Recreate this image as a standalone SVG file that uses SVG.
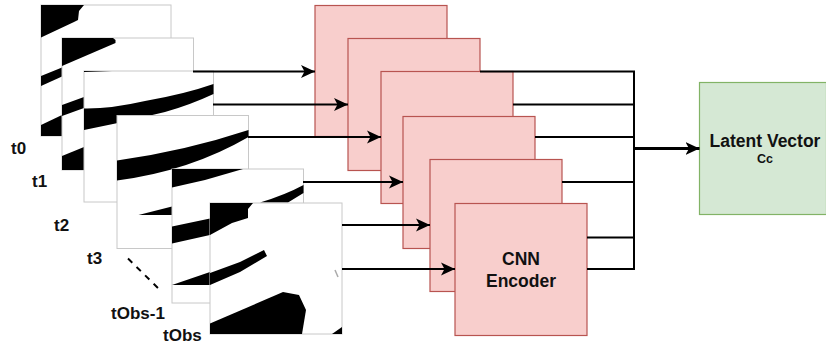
<svg xmlns="http://www.w3.org/2000/svg" width="826" height="349" viewBox="0 0 826 349">
  <style>
    .frame { fill: #fff; stroke: #c8c8c8; stroke-width: 1; }
    .ink { fill: #000; stroke: none; }
    .enc { fill: #f8cecc; stroke: #b85450; stroke-width: 1.2; }
    .lat { fill: #d5e8d4; stroke: #82b366; stroke-width: 1.2; }
    .lab { font-family: "Liberation Sans", Arial, sans-serif; font-weight: 700; fill: #111; }
    .wire { fill: none; stroke: #000; stroke-width: 2; }
    .arr { marker-end: url(#head); }
  </style>
  <defs>
    <marker id="head" markerUnits="userSpaceOnUse" markerWidth="15" markerHeight="16" refX="14" refY="8" orient="auto">
      <path d="M0 1.500 L14 8 L0 14.500 L3.500 8 Z" fill="#000"/>
    </marker>
  </defs>

  <rect width="826" height="349" fill="#fff"/>

  <!-- occupancy frames, back to front -->
  <g id="frame-t0">
    <rect class="frame" x="41" y="5" width="130" height="131"/>
    <path class="ink" d="M41 5H84L79 11L78 20L74 22L41 37.500Z"/>
    <path class="ink" d="M41 76L62 67.500V76.500L41 86Z"/>
    <path class="ink" d="M41 125L62 115V136H41Z"/>
  </g>
  <g id="frame-t1">
    <rect class="frame" x="62" y="38" width="131.500" height="132"/>
    <path class="ink" d="M62 38H113L115.500 40V43L62 66Z"/>
    <path class="ink" d="M62 105L84 97V108L62 116Z"/>
    <path class="ink" d="M62 156L84 147V170H62Z"/>
  </g>
  <g id="frame-t2">
    <rect class="frame" x="84" y="71" width="129.500" height="131"/>
    <path class="ink" d="M84 71H112L84 72Z"/>
    <path class="ink" d="M84 108.500Q110 109 145 101Q185 94 213.500 84V94Q190 105 165 112Q125 122 84 130Z"/>
  </g>
  <g id="frame-t3">
    <rect class="frame" x="117" y="115.500" width="131.500" height="133"/>
    <path class="ink" d="M117 160.500Q185 151 248.500 130V137Q190 171 117 180.500Z"/>
    <path class="ink" d="M138.500 215L172 206.500V215Z"/>
  </g>
  <g id="frame-tobs-1">
    <rect class="frame" x="172" y="169" width="131.500" height="134"/>
    <path class="ink" d="M172 169H243L205 180L172 187.500Z"/>
    <path class="ink" d="M260 202.500Q285 195 303.500 185V193L288 202.500Z"/>
    <path class="ink" d="M172 226.500L210 218.500V235L172 243.500Z"/>
    <path class="ink" d="M172 285L210 272V285Z"/>
  </g>
  <g id="frame-tobs">
    <rect class="frame" x="210" y="203" width="132" height="131" stroke="#ddd"/>
    <path class="ink" d="M210 203H253L248 209V218L232 223L210 235Z"/>
    <path class="ink" d="M210 273L240 262L264 250L267 256L240 272L210 285Z"/>
    <path class="ink" d="M210 323.500L283 292L299 295L306 310L302 334H210Z"/>
    <path class="ink" d="M332 334L342 327V334Z"/>
    <path d="M335 270L338 277" stroke="#aaa" stroke-width="1.500" fill="none"/>
  </g>

  <g id="frame-labels">
    <text class="lab" font-size="17" x="11" y="154">t0</text>
    <text class="lab" font-size="17" x="32" y="187">t1</text>
    <text class="lab" font-size="17" x="54" y="231">t2</text>
    <text class="lab" font-size="17" x="87" y="264">t3</text>
    <text class="lab" font-size="17" x="111" y="319">tObs-1</text>
    <text class="lab" font-size="17" x="163" y="341">tObs</text>
    <path d="M128 258.500L162 292" fill="none" stroke="#000" stroke-width="2" stroke-dasharray="6 6"/>
  </g>

  <!-- encoder stack, back to front -->
  <g id="encoder-1"><rect class="enc" x="315" y="5.500" width="132" height="131"/></g>
  <g id="encoder-2"><rect class="enc" x="348" y="38.500" width="132" height="132"/></g>
  <g id="encoder-3"><rect class="enc" x="381" y="71.500" width="132" height="132"/></g>
  <g id="encoder-4"><rect class="enc" x="403" y="116.500" width="132" height="132"/></g>
  <g id="encoder-5"><rect class="enc" x="430" y="159.500" width="132" height="132"/></g>
  <g id="encoder-6">
    <rect class="enc" x="455" y="203.500" width="132" height="132"/>
    <text class="lab" font-size="17.500" x="521" y="265" text-anchor="middle">CNN</text>
    <text class="lab" font-size="17.500" x="521" y="287" text-anchor="middle">Encoder</text>
  </g>

  <g id="latent-vector">
    <rect class="lat" x="699.500" y="82.500" width="127" height="132"/>
    <text class="lab" font-size="17.500" x="765" y="147" text-anchor="middle">Latent Vector</text>
    <text class="lab" font-size="12.500" x="765" y="163" text-anchor="middle">Cc</text>
  </g>

  <g id="connectors">
    <path class="wire arr" d="M193 71.500H315"/>
    <path class="wire arr" d="M213 104.500H348"/>
    <path class="wire arr" d="M248 137H381"/>
    <path class="wire arr" d="M303 182H403"/>
    <path class="wire arr" d="M342 225H430"/>
    <path class="wire arr" d="M342 269H455"/>
    <path class="wire" d="M480 71.500H634V269H587"/>
    <path class="wire" d="M513 104.500H634"/>
    <path class="wire" d="M535 137H634"/>
    <path class="wire" d="M562 182H634"/>
    <path class="wire" d="M587 237.500H634"/>
    <path class="wire arr" style="stroke-width:3" d="M634 148.500H699.500"/>
  </g>
</svg>
